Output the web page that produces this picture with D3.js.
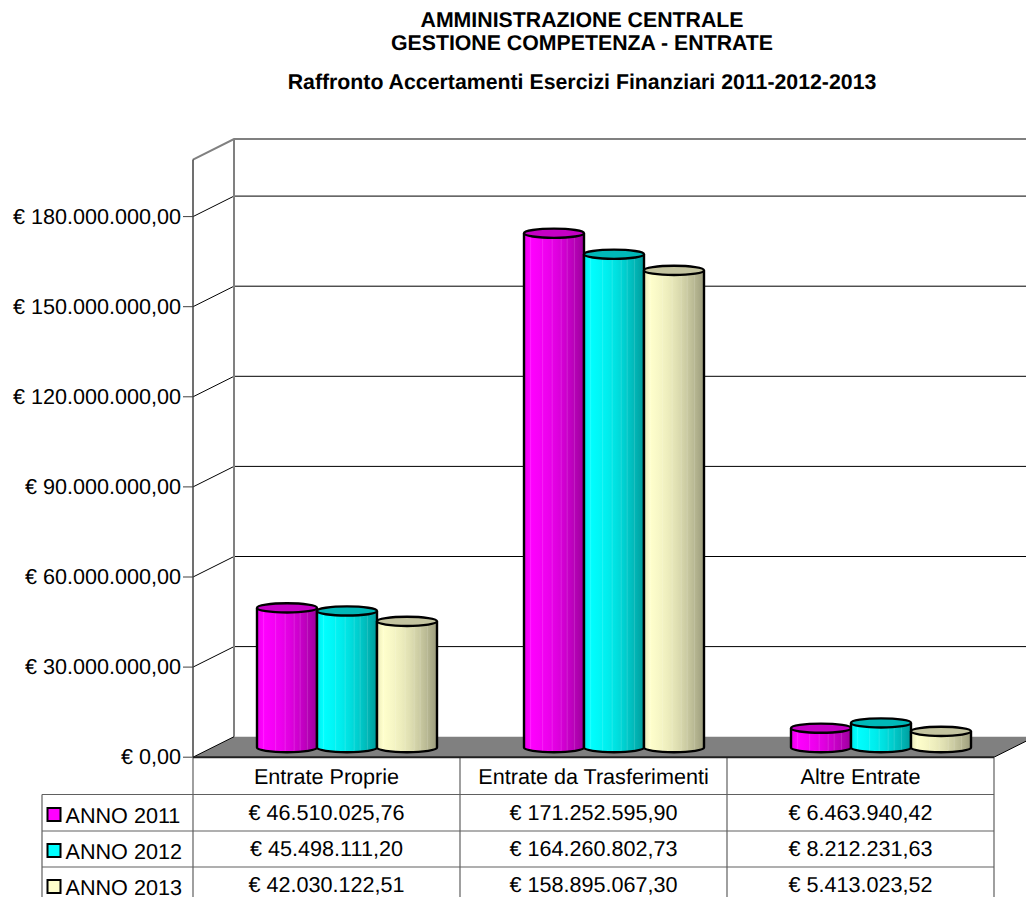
<!DOCTYPE html>
<html><head><meta charset="utf-8">
<style>html,body{margin:0;padding:0;background:#fff;overflow:hidden}svg{display:block}text{font-family:"Liberation Sans",Arial,sans-serif;fill:#000;text-rendering:geometricPrecision}</style>
<script src="https://cdn.jsdelivr.net/npm/d3@7"></script></head><body>
<script>
const titleLines = ["AMMINISTRAZIONE CENTRALE","GESTIONE COMPETENZA - ENTRATE","Raffronto Accertamenti Esercizi Finanziari 2011-2012-2013"];
const categories = ["Entrate Proprie","Entrate da Trasferimenti","Altre Entrate"];
const seriesNames = ["ANNO 2011","ANNO 2012","ANNO 2013"];
const values2011 = [46510025.76,171252595.90,6463940.42];
const values2012 = [45498111.20,164260802.73,8212231.63];
const values2013 = [42030122.51,158895067.30,5413023.52];
const tickValues = [0,30000000,60000000,90000000,120000000,150000000,180000000];
const topValue = 199000000;
const seriesValues = [values2011,values2012,values2013];
const palettes = [
 {light:"#ff00ff",dark:"#9c009c",top:"#c400c4",swatch:"#ff00ff"},
 {light:"#00ffff",dark:"#009c9c",top:"#00b8b8",swatch:"#00ffff"},
 {light:"#ffffcc",dark:"#9c9c7c",top:"#c4c4a0",swatch:"#ffffcc"}];

const W=1026,H=897;
const fmt=v=>"€ "+new Intl.NumberFormat("it-IT",{minimumFractionDigits:2,maximumFractionDigits:2,useGrouping:true}).format(v).replace(/^(\d)(\d{3}),/,"$1.$2,");
const tickFmt=v=>v===0?"€ 0,00":fmt(v);

const svg=d3.select("body").append("svg").attr("width",W).attr("height",H);
const y=d3.scaleLinear().domain([0,180000000]).range([757.2,216.6]);
const dx=41,dy=-20.5;
const x=d3.scaleBand().domain(categories).range([193,994]);
const xs=d3.scaleBand().domain(seriesNames).range([0,180]);
const gridCol="#808080",axisCol="#404040";
const FS=21.6;

// title
svg.append("g").selectAll("text").data(titleLines).join("text")
 .attr("x",582).attr("y",(d,i)=>[27,50,89][i])
 .attr("text-anchor","middle").attr("font-weight","bold").attr("font-size",21.3*0.75/0.75).text(d=>d);

// floor
const y0=y(0);
svg.append("polygon").attr("fill","#808080")
 .attr("points",[[193,y0],[193+dx,y0+dy],[W,y0+dy],[W,y0-16],[x.range()[1],y0]].map(p=>p.join(",")).join(" "));

// gridlines
const grid=tickValues.filter(v=>v>0);
svg.append("g").selectAll("path").data(grid).join("path").attr("fill","none").attr("stroke","#000").attr("stroke-width",1)
 .attr("d",v=>`M193,${y(v)}L${193+dx},${y(v)+dy}L${W},${y(v)+dy}`);

// walls
const yTop=y(topValue);
svg.append("path").attr("fill","none").attr("stroke",gridCol).attr("stroke-width",2)
 .attr("d",`M193,${yTop}L${193+dx},${yTop+dy}L${W},${yTop+dy}M${193+dx},${yTop+dy}L${193+dx},${y0+dy}`);
svg.append("path").attr("stroke","#000").attr("stroke-width",1).attr("fill","none")
 .attr("d",`M193,${y0}L${193+dx},${y0+dy}M${x.range()[1]},${y0}L${W},${y0-16}`);

// axis
svg.append("path").attr("stroke",axisCol).attr("stroke-width",1.5).attr("fill","none").attr("d",`M193,${yTop}L193,${y0}`);
const ticks=svg.append("g").selectAll("g").data(tickValues).join("g").attr("transform",v=>`translate(0,${y(v)})`);
ticks.append("line").attr("x1",183).attr("x2",193).attr("stroke",axisCol).attr("stroke-width",1);
ticks.append("text").attr("x",181).attr("y",7).attr("text-anchor","end").attr("font-size",FS).text(tickFmt);

// gradients
const defs=svg.append("defs");
const mix=(p,t)=>d3.interpolateRgb(p.light,p.dark)(t);
const stripes=[.11,.31,.47,.62,.72,.84];
palettes.forEach((p,i)=>{
 const g=defs.append("linearGradient").attr("id","cyl"+i);
 const stops=[[0,mix(p,.22)],[.1,mix(p,0)]];
 [.25,.4,.55,.7,.85,1].forEach(t=>stops.push([t,mix(p,t*t*.9+.1*t)]));
 stops.forEach(s=>g.append("stop").attr("offset",s[0]).attr("stop-color",s[1]));
});

// cylinders
const ry=4.6,baseOff=9.6,inset=64;
const barsG=svg.append("g");
categories.forEach((c,ci)=>{
 seriesValues.forEach((vals,si)=>{
  const v=vals[ci],p=palettes[si];
  const left=x(c)+inset+xs(seriesNames[si]),w=xs.bandwidth();
  const rx=w/2,cx=left+rx;
  const yb=y(0)-baseOff,yt=y(v)-baseOff;
  const g=barsG.append("g");
  g.append("path").attr("fill",`url(#cyl${si})`)
   .attr("d",`M${left},${yt}L${left},${yb}A${rx},${ry} 0 0 0 ${left+w},${yb}L${left+w},${yt}A${rx},${ry} 0 0 1 ${left},${yt}Z`);
  stripes.forEach(s=>{
   const xx=left+s*w;
   const off=Math.sqrt(1-Math.pow((xx-cx)/rx,2))*ry;
   g.append("line").attr("x1",xx).attr("x2",xx).attr("y1",yt+off).attr("y2",yb+off)
    .attr("stroke","#fff").attr("stroke-opacity",.14).attr("stroke-width",1);
  });
  g.append("path").attr("fill","none").attr("stroke","#000").attr("stroke-width",2.4)
   .attr("d",`M${left},${yt}L${left},${yb}A${rx},${ry} 0 0 0 ${left+w},${yb}L${left+w},${yt}`);
  g.append("ellipse").attr("cx",cx).attr("cy",yt).attr("rx",rx).attr("ry",ry)
   .attr("fill",p.top).attr("stroke","#000").attr("stroke-width",2.4);
 });
});

// table
const rowY=[757.2,794.5,831,867];
const tableG=svg.append("g");
const tc="#606060";
const vLines=[193,...categories.map(c=>x(c)+x.bandwidth())];
tableG.selectAll("line.v").data(vLines).join("line").attr("x1",d=>d).attr("x2",d=>d).attr("y1",y0).attr("y2",H).attr("stroke",tc).attr("stroke-width",1.2);
tableG.append("line").attr("x1",42).attr("x2",42).attr("y1",rowY[1]).attr("y2",H).attr("stroke",tc).attr("stroke-width",1.2);
[1,2,3].forEach(i=>tableG.append("line").attr("x1",42).attr("x2",994).attr("y1",rowY[i]).attr("y2",rowY[i]).attr("stroke",tc).attr("stroke-width",1.2));
tableG.append("line").attr("x1",193).attr("x2",994).attr("y1",y0).attr("y2",y0).attr("stroke","#202020").attr("stroke-width",2);
tableG.selectAll("text.c").data(categories).join("text").attr("x",c=>x(c)+x.bandwidth()/2).attr("y",783.5).attr("text-anchor","middle").attr("font-size",FS).text(d=>d);
seriesNames.forEach((s,si)=>{
 const ty=[821,857,893][si];
 tableG.append("rect").attr("x",47.5).attr("y",[808,844,880][si]).attr("width",13).attr("height",13).attr("fill",palettes[si].swatch).attr("stroke","#000").attr("stroke-width",2);
 tableG.append("text").attr("x",65.5).attr("y",ty+1.5).attr("font-size",FS).text(s);
 categories.forEach((c,ci)=>{
  tableG.append("text").attr("x",x(c)+x.bandwidth()/2).attr("y",ty-1).attr("text-anchor","middle").attr("font-size",FS).text(fmt(seriesValues[si][ci]));
 });
});
</script></body></html>
